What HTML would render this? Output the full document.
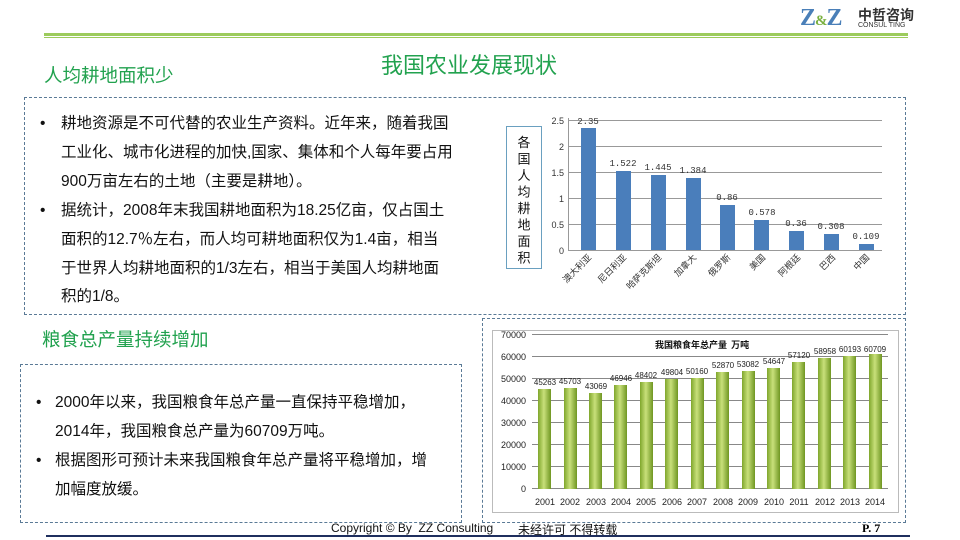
<!DOCTYPE html>
<html><head><meta charset="utf-8"><style>
body{margin:0;width:960px;height:540px;background:#fff;position:relative;overflow:hidden;font-family:"Liberation Sans","Noto Sans CJK SC",sans-serif}
.a{position:absolute}
.g{color:#22a24f}
.box{position:absolute;border:1px dashed #5a7a96}
.t{position:absolute;font-size:15.5px;color:#111;white-space:nowrap;line-height:28.8px}
</style></head><body>
<div class="a" style="left:44px;top:33px;width:864px;height:3px;background:#9ccb5c"></div>
<div class="a" style="left:44px;top:37px;width:864px;height:1px;background:#9ccb5c"></div>
<div class="a" style="left:800px;top:5px;font-family:'Liberation Serif',serif;font-size:24px;font-weight:bold;color:#4a7fb8;letter-spacing:-1px">Z<span style="font-size:15px;color:#7ab03f">&amp;</span>Z</div>
<div class="a" style="left:858px;top:5px;font-size:14px;font-weight:bold;color:#333">中哲咨询</div>
<div class="a" style="left:858px;top:22px;font-size:7px;color:#333">CONSUL TING</div>
<div class="a g" style="left:381px;top:48px;font-size:22px">我国农业发展现状</div>
<div class="a g" style="left:44px;top:62px;font-size:18.5px">人均耕地面积少</div>
<div class="box" style="left:24px;top:97px;width:880px;height:216px"></div>
<div class="t" style="left:40px;top:110px">•</div>
<div class="t" style="left:61px;top:110px">耕地资源是不可代替的农业生产资料。近年来，随着我国<br>工业化、城市化进程的加快,国家、集体和个人每年要占用<br>900万亩左右的土地（主要是耕地）。</div>
<div class="t" style="left:40px;top:197px">•</div>
<div class="t" style="left:61px;top:197px">据统计，2008年末我国耕地面积为18.25亿亩，仅占国土<br>面积的12.7％左右，而人均可耕地面积仅为1.4亩，相当<br>于世界人均耕地面积的1/3左右，相当于美国人均耕地面<br>积的1/8。</div>
<div class="a g" style="left:42px;top:326px;font-size:18.5px">粮食总产量持续增加</div>
<div class="box" style="left:20px;top:364px;width:440px;height:157px"></div>
<div class="t" style="left:36px;top:389px">•</div>
<div class="t" style="left:55px;top:389px">2000年以来，我国粮食年总产量一直保持平稳增加，<br>2014年，我国粮食总产量为60709万吨。</div>
<div class="t" style="left:36px;top:447px">•</div>
<div class="t" style="left:55px;top:447px">根据图形可预计未来我国粮食年总产量将平稳增加，增<br>加幅度放缓。</div>
<div class="box" style="left:482px;top:318px;width:422px;height:203px"></div>
<div class="a" style="left:46px;top:535px;width:864px;height:2px;background:#1f2f5e"></div>
<div class="a" style="left:331px;top:521px;font-size:12px;color:#111">Copyright © By &nbsp;ZZ Consulting</div>
<div class="a" style="left:518px;top:521px;font-size:12px;color:#111">未经许可 不得转载</div>
<div class="a" style="left:862px;top:521px;font-size:12px;font-weight:bold;font-family:'Liberation Serif',serif">P. 7</div>

<svg class="a" style="left:0;top:0" width="960" height="540">
<g stroke="#999" stroke-width="1">
<line x1="568" y1="120.5" x2="882" y2="120.5"/><line x1="568" y1="146.5" x2="882" y2="146.5"/><line x1="568" y1="172.5" x2="882" y2="172.5"/><line x1="568" y1="198.5" x2="882" y2="198.5"/><line x1="568" y1="224.5" x2="882" y2="224.5"/>
<line x1="568" y1="250.5" x2="882" y2="250.5"/><line x1="568.5" y1="118" x2="568.5" y2="250"/>
</g>
<g fill="#4a7ebb">
<rect x="581" y="128" width="15" height="122"/><rect x="616" y="171" width="15" height="79"/><rect x="651" y="175" width="15" height="75"/><rect x="686" y="178" width="15" height="72"/><rect x="720" y="205" width="15" height="45"/><rect x="754" y="220" width="15" height="30"/><rect x="789" y="231" width="15" height="19"/><rect x="824" y="234" width="15" height="16"/><rect x="859" y="244" width="15" height="6"/>
</g>
<g font-size="9" fill="#333" font-family="Liberation Mono,monospace" text-anchor="middle">
<text x="588" y="124">2.35</text><text x="623" y="166">1.522</text><text x="658" y="170">1.445</text><text x="693" y="173">1.384</text><text x="727" y="200">0.86</text><text x="762" y="215">0.578</text><text x="796" y="226">0.36</text><text x="831" y="229">0.308</text><text x="866" y="239">0.109</text>
</g>
<g font-size="9" fill="#333" text-anchor="end">
<text x="564" y="124">2.5</text><text x="564" y="150">2</text><text x="564" y="176">1.5</text><text x="564" y="202">1</text><text x="564" y="228">0.5</text><text x="564" y="254">0</text>
</g>
<g font-size="9" fill="#333" text-anchor="end" font-family="Noto Sans CJK SC,sans-serif">
<text transform="translate(592,258) rotate(-45)">澳大利亚</text><text transform="translate(627,258) rotate(-45)">尼日利亚</text><text transform="translate(662,258) rotate(-45)">哈萨克斯坦</text><text transform="translate(697,258) rotate(-45)">加拿大</text><text transform="translate(731,258) rotate(-45)">俄罗斯</text><text transform="translate(766,258) rotate(-45)">美国</text><text transform="translate(801,258) rotate(-45)">阿根廷</text><text transform="translate(836,258) rotate(-45)">巴西</text><text transform="translate(870,258) rotate(-45)">中国</text>
</g>
<rect x="506.5" y="126.5" width="35" height="142" fill="#fff" stroke="#6aa0c0"/>
<g font-size="13" fill="#111" text-anchor="middle" font-family="Noto Sans CJK SC,sans-serif">
<text x="524" y="147">各</text><text x="524" y="163.5">国</text><text x="524" y="180">人</text><text x="524" y="196.5">均</text><text x="524" y="213">耕</text><text x="524" y="229.5">地</text><text x="524" y="246">面</text><text x="524" y="262.5">积</text>
</g>

<rect x="492.5" y="330.5" width="406" height="182" fill="#fff" stroke="#bbb"/>
<defs><linearGradient id="gb" x1="0" x2="1"><stop offset="0" stop-color="#7fa62c"/><stop offset=".45" stop-color="#c8e07a"/><stop offset="1" stop-color="#6f9622"/></linearGradient></defs>
<g stroke="#888" stroke-width="1">
<line x1="532" y1="334.5" x2="888" y2="334.5"/><line x1="532" y1="356.5" x2="888" y2="356.5"/><line x1="532" y1="378.5" x2="888" y2="378.5"/><line x1="532" y1="400.5" x2="888" y2="400.5"/><line x1="532" y1="422.5" x2="888" y2="422.5"/><line x1="532" y1="444.5" x2="888" y2="444.5"/><line x1="532" y1="466.5" x2="888" y2="466.5"/><line x1="532" y1="488.5" x2="888" y2="488.5"/>
</g>
<g fill="url(#gb)">
<rect x="538" y="389" width="13" height="100"/><rect x="564" y="388" width="13" height="101"/><rect x="589" y="393" width="13" height="96"/><rect x="614" y="385" width="13" height="104"/><rect x="640" y="382" width="13" height="107"/><rect x="665" y="379" width="13" height="110"/><rect x="691" y="378" width="13" height="111"/><rect x="716" y="372" width="13" height="117"/><rect x="742" y="371" width="13" height="118"/><rect x="767" y="368" width="13" height="121"/><rect x="792" y="362" width="13" height="127"/><rect x="818" y="358" width="13" height="131"/><rect x="843" y="356" width="13" height="133"/><rect x="869" y="354" width="13" height="135"/>
</g>
<text x="655" y="348" font-size="9" font-weight="bold" fill="#111" font-family="Noto Sans CJK SC,sans-serif">我国粮食年总产量 &nbsp;万吨</text>
<g font-size="8" fill="#222" text-anchor="middle">
<text x="545" y="385">45263</text><text x="570" y="384">45703</text><text x="596" y="389">43069</text><text x="621" y="381">46946</text><text x="646" y="378">48402</text><text x="672" y="375">49804</text><text x="697" y="374">50160</text><text x="723" y="368">52870</text><text x="748" y="367">53082</text><text x="774" y="364">54647</text><text x="799" y="358">57120</text><text x="825" y="354">58958</text><text x="850" y="352">60193</text><text x="875" y="352">60709</text>
</g>
<g font-size="9" fill="#222" text-anchor="end">
<text x="526" y="338">70000</text><text x="526" y="360">60000</text><text x="526" y="382">50000</text><text x="526" y="404">40000</text><text x="526" y="426">30000</text><text x="526" y="448">20000</text><text x="526" y="470">10000</text><text x="526" y="492">0</text>
</g>
<g font-size="9" fill="#222" text-anchor="middle">
<text x="545" y="505">2001</text><text x="570" y="505">2002</text><text x="596" y="505">2003</text><text x="621" y="505">2004</text><text x="646" y="505">2005</text><text x="672" y="505">2006</text><text x="697" y="505">2007</text><text x="723" y="505">2008</text><text x="748" y="505">2009</text><text x="774" y="505">2010</text><text x="799" y="505">2011</text><text x="825" y="505">2012</text><text x="850" y="505">2013</text><text x="875" y="505">2014</text>
</g>
</svg>
</body></html>
